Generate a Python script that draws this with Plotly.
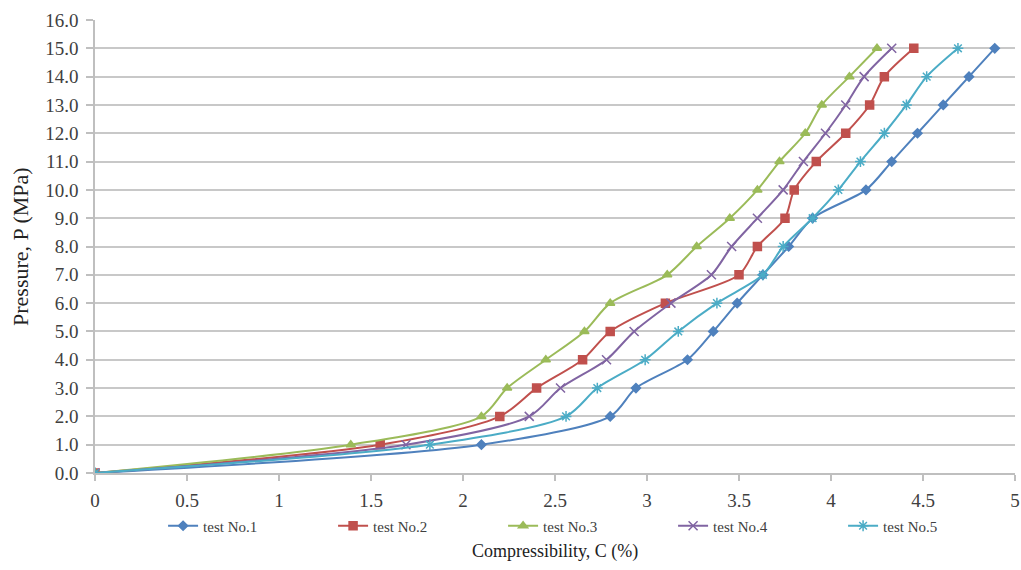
import plotly.graph_objects as go

pressure = [0, 1, 2, 3, 4, 5, 6, 7, 8, 9, 10, 11, 12, 13, 14, 15]

test1 = [0, 2.10, 2.80, 2.94, 3.22, 3.36, 3.49, 3.63, 3.77, 3.90, 4.19, 4.33, 4.47, 4.61, 4.75, 4.89]
test2 = [0, 1.55, 2.20, 2.40, 2.65, 2.80, 3.10, 3.50, 3.60, 3.75, 3.80, 3.92, 4.08, 4.21, 4.29, 4.45]
test3 = [0, 1.39, 2.10, 2.24, 2.45, 2.66, 2.80, 3.11, 3.27, 3.45, 3.60, 3.72, 3.86, 3.95, 4.10, 4.25]
test4 = [0, 1.69, 2.36, 2.53, 2.78, 2.93, 3.13, 3.35, 3.46, 3.60, 3.74, 3.85, 3.97, 4.08, 4.18, 4.33]
test5 = [0, 1.82, 2.56, 2.73, 2.99, 3.17, 3.38, 3.63, 3.74, 3.90, 4.04, 4.16, 4.29, 4.41, 4.52, 4.69]

names = ["test No.1", "test No.2", "test No.3", "test No.4", "test No.5"]
colors = ["#4F81BD", "#C0504D", "#9BBB59", "#8064A2", "#4BACC6"]
symbols = ["diamond", "square", "triangle-up", "x-thin-open", "asterisk-open"]
sizes = [7, 8, 8, 9, 9]
series = [test1, test2, test3, test4, test5]

FONT = "Liberation Serif"

fig = go.Figure()
for name, xs, col, sym, sz in zip(names, series, colors, symbols, sizes):
    fig.add_trace(go.Scatter(
        x=xs, y=pressure, name=name, mode="lines+markers",
        line=dict(color=col, width=2, shape="spline", smoothing=0.8),
        marker=dict(symbol=sym, size=sz, color=col, line=dict(color=col, width=1.5)),
    ))

fig.update_layout(
    width=1021, height=570,
    margin=dict(l=95, r=6, t=20, b=97, autoexpand=False),
    paper_bgcolor="white", plot_bgcolor="white",
    font=dict(family=FONT, size=16, color="#404040"),
    showlegend=True,
    legend=dict(orientation="h", x=0.074, xanchor="left", y=-0.117, yanchor="middle",
                font=dict(family=FONT, size=15, color="#404040"),
                entrywidth=125, entrywidthmode="pixels", itemwidth=30),
)
fig.update_xaxes(
    range=[0, 5], dtick=0.5, tick0=0, automargin=False,
    showgrid=False, zeroline=False,
    showline=True, linecolor="#BFBFBF", linewidth=1.5,
    ticks="outside", ticklen=6, tickcolor="#BFBFBF", tickwidth=1.5,
    ticklabelstandoff=3, ticklabeloverflow="allow",
    tickfont=dict(family=FONT, size=19, color="#404040"),
)
fig.update_yaxes(
    range=[0, 16], dtick=1, tick0=0, tickformat=".1f", automargin=False,
    showgrid=True, gridcolor="#C8C8C8", gridwidth=1.5,
    zeroline=False,
    showline=True, linecolor="#BFBFBF", linewidth=1.5,
    ticks="outside", ticklen=7, tickcolor="#BFBFBF", tickwidth=1.5,
    ticklabelstandoff=4,
    tickfont=dict(family=FONT, size=19, color="#404040"),
)
fig.add_annotation(
    text="Pressure, P (MPa)", xref="paper", yref="paper", textangle=-90,
    x=-0.081, y=0.5, xanchor="center", yanchor="middle", showarrow=False,
    font=dict(family=FONT, size=22, color="#222222"),
)
fig.add_annotation(
    text="Compressibility, C (%)", xref="paper", yref="paper",
    x=0.5, y=-0.174, xanchor="center", yanchor="middle", showarrow=False,
    font=dict(family=FONT, size=18, color="#222222"),
)

fig.write_html("out.html", config={"displayModeBar": False},
               post_script="document.body.style.margin='0';")
